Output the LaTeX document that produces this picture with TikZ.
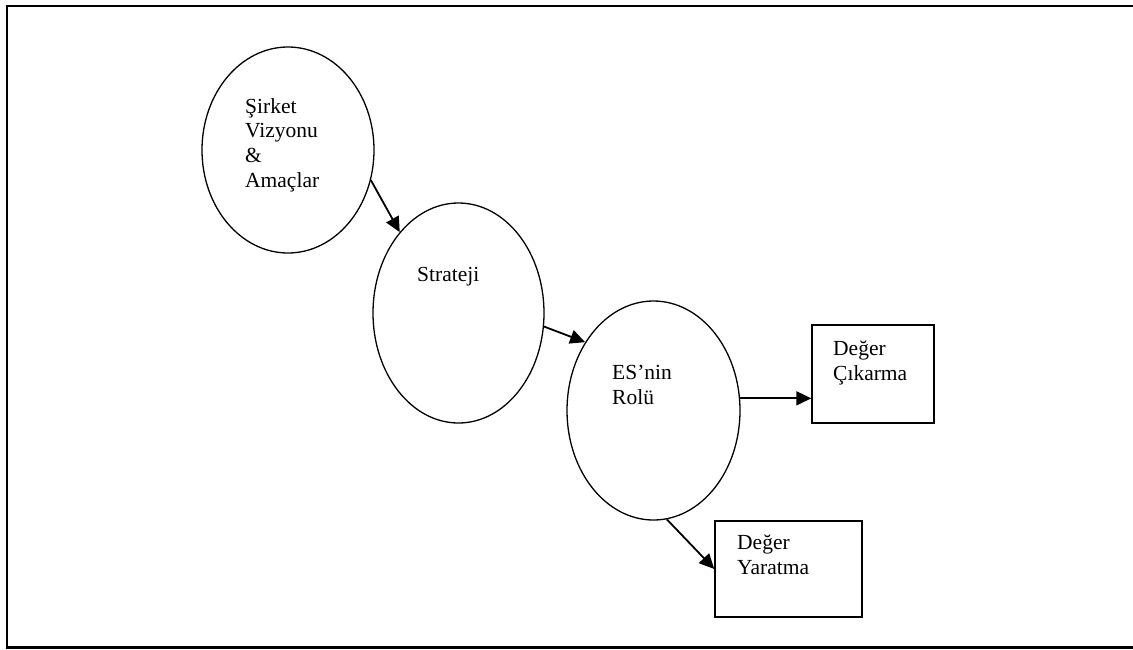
\documentclass[tikz,border=0pt]{standalone}
\usepackage{fontspec}
\setmainfont{Liberation Serif}
\usetikzlibrary{shapes.geometric,arrows.meta}
\begin{document}
\begin{tikzpicture}[x=1pt,y=-1pt,
  oval/.style={ellipse,draw,line width=1.3pt,inner sep=0pt},
  boxnode/.style={rectangle,draw,line width=1.4pt,inner sep=0pt},
  lbl/.style={anchor=north west,inner sep=0pt,align=left,
    font=\fontsize{21.5}{24.8}\selectfont},
  conn/.style={line width=1.8pt,-{Triangle[length=15pt,width=14pt]}}]
\useasboundingbox (0,0) rectangle (1133,649);
\draw[line width=2.5pt] (1134,6) -- (7,6) -- (7,647.5) -- (1134,647.5);
\node[oval,minimum width=172pt,minimum height=206pt] (e1) at (288,150) {};
\node[oval,minimum width=171pt,minimum height=220pt] (e2) at (458.5,313) {};
\node[oval,minimum width=173pt,minimum height=219pt] (e3) at (653.5,410.5) {};
\node[boxnode,minimum width=122pt,minimum height=98pt] (b1) at (873,374) {};
\node[boxnode,minimum width=147pt,minimum height=96pt] (b2) at (788.5,569) {};
\node[lbl] (t1) at (245,98) {Şirket\\Vizyonu\\\&\\Amaçlar};
\node[lbl] (t2) at (417,267) {Strateji};
\node[lbl] (t3) at (612,365) {ES’nin\\Rolü};
\node[lbl] (t4) at (833,341) {Değer\\Çıkarma};
\node[lbl] (t5) at (737,535) {Değer\\Yaratma};
\draw[conn] (e1.-20) -- (e2.126);
\draw[conn] (e2.-9) -- (e3.135);
\draw[conn] (e3.8) -- (e3.8 -| b1.west);
\draw[conn] (e3.-83) -- (b2.west);
\end{tikzpicture}
\end{document}
